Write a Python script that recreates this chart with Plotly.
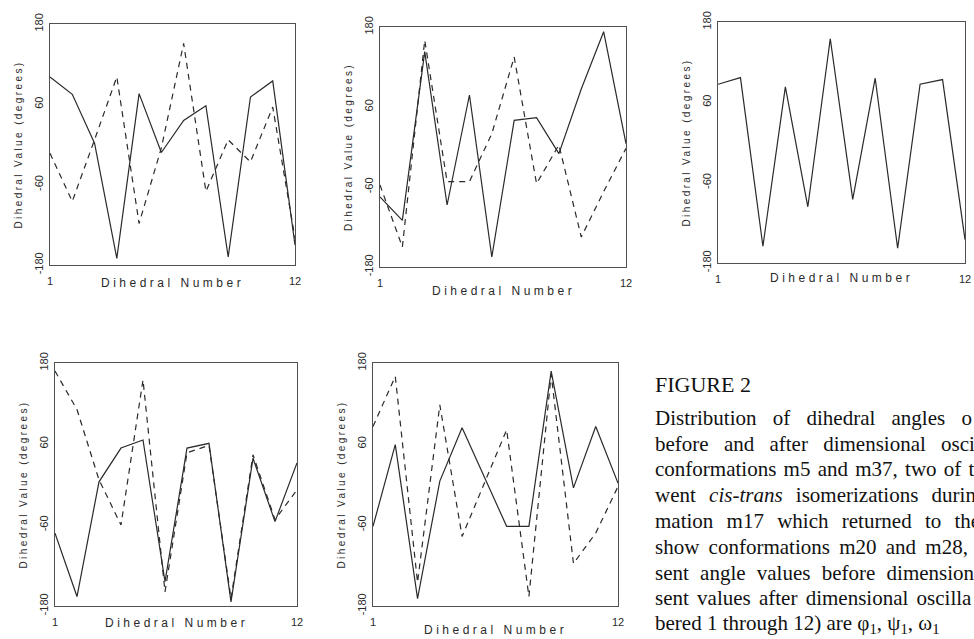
import plotly.graph_objects as go

# ---------------- data ----------------
dihedral_number = [1, 2, 3, 4, 5, 6, 7, 8, 9, 10, 11, 12]

# panel 1 (top left)
p1_solid = [101, 75, 2, -170, 76, -12, 36, 58, -168, 71, 95, -150]
p1_dashed = [-13, -85, 7, 101, -118, -5, 151, -70, 7, -26, 56, -140]
# panel 2 (top middle)
p2_solid = [-75, -110, 143, -87, 78, -165, 40, 44, -10, 87, 173, 5]
p2_dashed = [-57, -150, 160, -52, -52, 20, 135, -55, 3, -135, -67, -2]
# panel 3 (top right)
p3_solid = [87, 97, -155, 83, -96, 155, -85, 96, -158, 87, 94, -145]
# panel 4 (bottom left)
p4_solid = [-72, -166, 4, 54, 66, -144, 54, 61, -174, 39, -55, 32]
p4_dashed = [168, 111, 7, -60, 155, -159, 47, 58, -169, 44, -52, -8]
# panel 5 (bottom middle)
p5_solid = [-62, 59, -169, 5, 84, 10, -62, -62, 168, -5, 86, 2]
p5_dashed = [86, 160, -145, 118, -77, 2, 81, -166, 163, -117, -72, -3]

y_tick_values = [-180, -60, 60, 180]
y_tick_labels = ["-180", "-60", "60", "180"]
x_tick_values = [1, 12]
x_tick_labels = ["1", "12"]

x_title = "Dihedral Number"
y_title = "Dihedral Value (degrees)"

caption_heading = "FIGURE 2"
caption_lines = [
    "Distribution of dihedral angles o",
    "before and after dimensional osci",
    "conformations m5 and m37, two of t",
    "went <i>cis-trans</i> isomerizations durin",
    "mation m17 which returned to the",
    "show conformations m20 and m28, ",
    "sent angle values before dimension",
    "sent values after dimensional oscilla",
    "bered 1 through 12) are \u03c6<sub>1</sub>, \u03c8<sub>1</sub>, \u03c9<sub>1</sub>",
]

panels = [
    (p1_solid, p1_dashed),
    (p2_solid, p2_dashed),
    (p3_solid, None),
    (p4_solid, p4_dashed),
    (p5_solid, p5_dashed),
]

# ---------------- layout geometry (pixels) ----------------
W, H = 974, 639
# left, right, top, bottom of each plot box
boxes = [
    (50, 295, 24, 265),
    (380, 626, 27, 267),
    (718, 965, 22, 263),
    (55, 297, 363, 606),
    (373, 618, 363, 606),
]
xtitle_offsets = [18, 24, 15, 17, 24]

LINE = "#2a2a2a"
AXIS = "#505050"
TEXT = "#2a2a2a"

fig = go.Figure()
layout = dict(
    width=W, height=H,
    margin=dict(l=0, r=0, t=0, b=0, autoexpand=False),
    paper_bgcolor="white", plot_bgcolor="white",
    showlegend=False,
    annotations=[],
)

for i, ((solid, dashed), (l, r, t, b)) in enumerate(zip(panels, boxes)):
    n = i + 1
    xa = "x" if n == 1 else f"x{n}"
    ya = "y" if n == 1 else f"y{n}"
    fig.add_trace(go.Scatter(x=dihedral_number, y=solid, mode="lines",
                             line=dict(color=LINE, width=1.2),
                             xaxis=xa, yaxis=ya, hoverinfo="skip"))
    if dashed is not None:
        fig.add_trace(go.Scatter(x=dihedral_number, y=dashed, mode="lines",
                                 line=dict(color=LINE, width=1.2, dash="6px,5px"),
                                 xaxis=xa, yaxis=ya, hoverinfo="skip"))
    xkey = "xaxis" if n == 1 else f"xaxis{n}"
    ykey = "yaxis" if n == 1 else f"yaxis{n}"
    layout[xkey] = dict(
        domain=[l / W, r / W], anchor=ya, range=[1, 12], automargin=False,
        tickvals=x_tick_values, ticktext=x_tick_labels,
        ticks="outside", ticklen=6, tickcolor="rgba(0,0,0,0)",
        showline=True, mirror=True, linecolor=AXIS, linewidth=1,
        showgrid=False, zeroline=False,
        tickfont=dict(family="Liberation Sans", size=11, color=TEXT),
    )
    layout[ykey] = dict(
        domain=[1 - b / H, 1 - t / H], anchor=xa, range=[-180, 180], automargin=False,
        tickvals=y_tick_values, ticktext=y_tick_labels, tickangle=-90,
        ticks="outside", ticklen=2, tickcolor="rgba(0,0,0,0)",
        showline=True, mirror=True, linecolor=AXIS, linewidth=1,
        showgrid=False, zeroline=False,
        tickfont=dict(family="Liberation Sans", size=11, color=TEXT),
    )
    # axis titles
    layout["annotations"].append(dict(
        xref="paper", yref="paper", x=(l + r) / 2 / W,
        y=1 - (b + xtitle_offsets[i]) / H, xanchor="center", yanchor="middle",
        text=f'<span style="letter-spacing:3.5px">{x_title}</span>',
        showarrow=False, font=dict(family="Liberation Sans", size=12, color=TEXT)))
    layout["annotations"].append(dict(
        xref="paper", yref="paper", x=(l - 32) / W,
        y=1 - (t + b) / 2 / H, xanchor="center", yanchor="middle", textangle=-90,
        text=f'<span style="letter-spacing:2.4px">{y_title}</span>',
        showarrow=False, font=dict(family="Liberation Sans", size=10, color=TEXT)))

# caption
cap_x = 653
cap_font = dict(family="Liberation Serif", size=21, color="#111")
layout["annotations"].append(dict(
    xref="paper", yref="paper", x=cap_x / W, y=1 - 384 / H,
    xanchor="left", yanchor="middle", text=caption_heading, showarrow=False,
    font=dict(family="Liberation Serif", size=22, color="#111")))
word_spacing = [11, 10, 2, 8, 8, 4, 6, 3, 0]
for k, (line, ws) in enumerate(zip(caption_lines, word_spacing)):
    txt = f'<span style="word-spacing:{ws}px">{line}</span>' if ws else line
    layout["annotations"].append(dict(
        xref="paper", yref="paper", x=cap_x / W, y=1 - (418 + 25.75 * k) / H,
        xanchor="left", yanchor="middle", text=txt, showarrow=False,
        font=cap_font))

fig.update_layout(**layout)
fig.write_html("out.html", config={"displayModeBar": False},
               post_script="document.body.style.margin='0px';")
